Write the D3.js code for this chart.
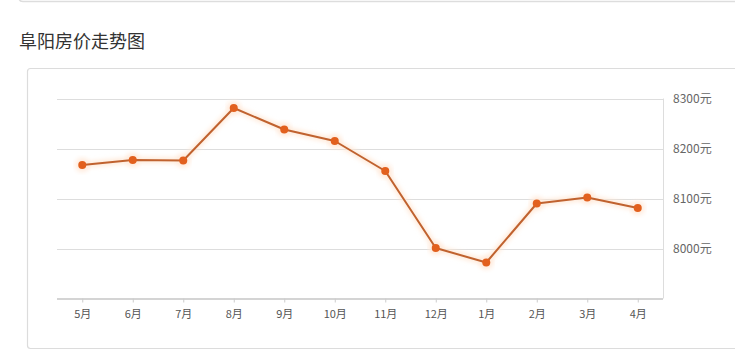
<!DOCTYPE html>
<html>
<head>
<meta charset="utf-8">
<script src="https://cdn.jsdelivr.net/npm/d3@7"></script>
<style>
  body { margin: 0; background: #fff; font-family: "Noto Sans CJK SC", "Noto Sans", sans-serif; }
</style>
</head>
<body>
<div id="chart"></div>
<script>
// data
const months = ["5月", "6月", "7月", "8月", "9月", "10月", "11月", "12月", "1月", "2月", "3月", "4月"]
const prices = [8167, 8177, 8176, 8281, 8238, 8215, 8155, 8001, 7972, 8090, 8102, 8081]
const yTicks = [8000, 8100, 8200, 8300]
const title = "阜阳房价走势图"

const W = 735, H = 351
const svg = d3.select("#chart").append("svg")
    .attr("width", W)
    .attr("height", H)

// glow filter for the line
const defs = svg.append("defs")
const f = defs.append("filter").attr("id", "glow")
    .attr("x", "-10%").attr("y", "-20%").attr("width", "120%").attr("height", "140%")
f.append("feGaussianBlur").attr("stdDeviation", 2.5)

// bottom edge of previous card
svg.append("path")
    .attr("d", "M19,-6 L19,-2 Q19,1.5 23,1.5 L740,1.5")
    .attr("fill", "none")
    .attr("stroke", "#ddd")
    .attr("stroke-width", 1.5)

svg.append("text")
    .attr("x", 19)
    .attr("y", 48)
    .attr("font-size", 18)
    .attr("fill", "#333")
    .text(title)

// card
svg.append("rect")
    .attr("x", 27.5).attr("y", 68.5)
    .attr("width", 760).attr("height", 280)
    .attr("rx", 3)
    .attr("fill", "#fff")
    .attr("stroke", "#dcdcdc")
    .attr("stroke-width", 1.2)

const pLeft = 57, pRight = 663, pTop = 98.5, pBottom = 298.5

const x = d3.scalePoint()
    .domain(months)
    .range([pLeft, pRight])
    .padding(0.5)

const y = d3.scaleLinear()
    .domain([7900, 8300])
    .range([pBottom, pTop])

// grid lines
svg.append("g")
    .selectAll("line")
    .data(yTicks)
    .join("line")
    .attr("x1", pLeft).attr("x2", pRight)
    .attr("y1", d => Math.round(y(d)) + 0.5)
    .attr("y2", d => Math.round(y(d)) + 0.5)
    .attr("stroke", "#ddd")

// right border of plot
svg.append("line")
    .attr("x1", pRight + 0.5).attr("x2", pRight + 0.5)
    .attr("y1", pTop).attr("y2", pBottom)
    .attr("stroke", "#ddd")

// right axis labels
const yAxis = svg.append("g")
    .attr("transform", `translate(${pRight},0)`)
    .call(d3.axisRight(y).tickValues(yTicks).tickSize(0).tickPadding(10).tickFormat(d => d + "元"))
yAxis.select(".domain").remove()
yAxis.selectAll("text")
    .attr("font-size", 12)
    .attr("fill", "#666")
    .attr("font-family", "Noto Sans CJK SC, sans-serif")

// bottom axis
const xAxis = svg.append("g")
    .attr("transform", `translate(0,${pBottom})`)
    .call(d3.axisBottom(x).tickSize(4).tickPadding(8).tickSizeOuter(0))
xAxis.select(".domain")
    .attr("stroke", "#d4d4d4")
    .attr("stroke-width", 2)
    .attr("d", `M${pLeft},0.5H${pRight}`)
xAxis.selectAll(".tick line").attr("stroke", "#ccc")
xAxis.selectAll("text")
    .attr("font-size", 11)
    .attr("fill", "#555")
    .attr("font-family", "Noto Sans CJK SC, sans-serif")

const line = d3.line()
    .x((d, i) => x(months[i]))
    .y(d => y(d))

// soft glow under the line
svg.append("path")
    .datum(prices)
    .attr("d", line)
    .attr("fill", "none")
    .attr("stroke", "#ffe6d2")
    .attr("stroke-width", 5)
    .attr("stroke-linejoin", "round")
    .attr("filter", "url(#glow)")

svg.append("g")
    .selectAll("circle")
    .data(prices)
    .join("circle")
    .attr("cx", (d, i) => x(months[i]))
    .attr("cy", d => y(d))
    .attr("r", 7)
    .attr("fill", "#ffeadb")
    .attr("filter", "url(#glow)")

svg.append("path")
    .datum(prices)
    .attr("d", line)
    .attr("fill", "none")
    .attr("stroke", "#c0622f")
    .attr("stroke-width", 2)
    .attr("stroke-linejoin", "round")

svg.append("g")
    .selectAll("circle")
    .data(prices)
    .join("circle")
    .attr("cx", (d, i) => x(months[i]))
    .attr("cy", d => y(d))
    .attr("r", 4)
    .attr("fill", "#e2601e")
</script>
</body>
</html>
